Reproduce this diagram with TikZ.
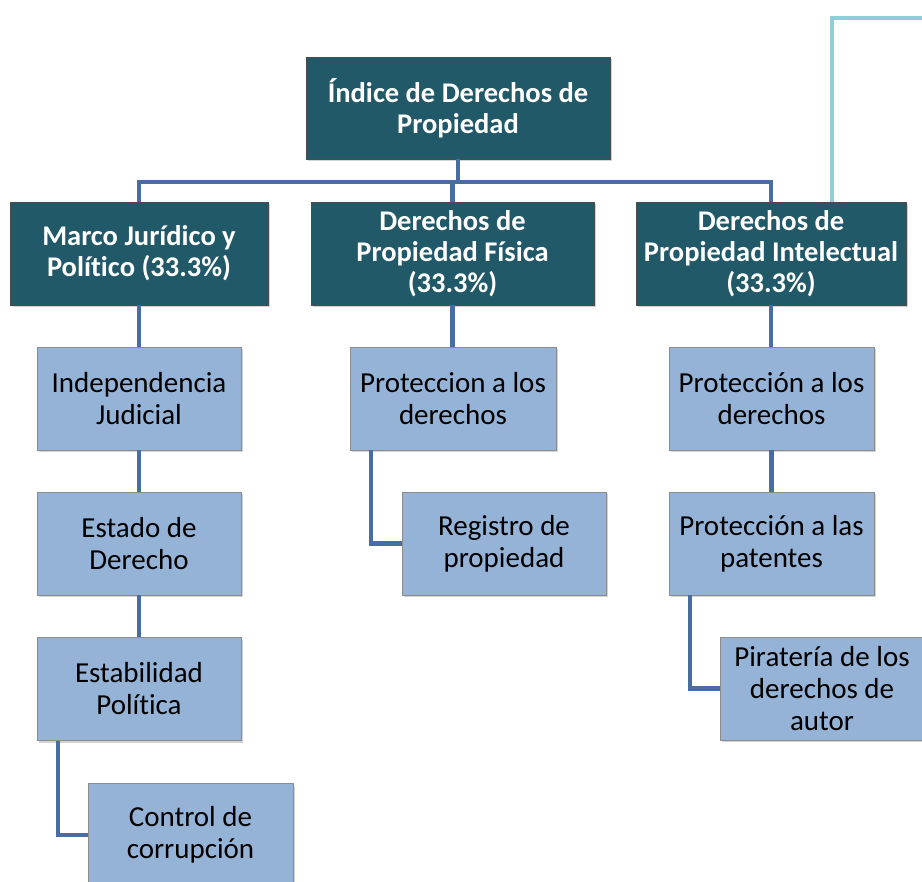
\documentclass[tikz,border=0pt]{standalone}
\usepackage{fontspec}
\setmainfont{Carlito}[RawFeature=-liga]
\usetikzlibrary{shadows}
\definecolor{tealbox}{RGB}{34,89,104}
\definecolor{lightbox}{RGB}{149,179,215}
\definecolor{linkblue}{RGB}{72,108,164}
\definecolor{feedblue}{RGB}{146,205,220}
\begin{document}
\begin{tikzpicture}[x=1pt, y=-1pt,
    head style/.style={draw=black!70, line width=0.6pt, fill=tealbox, text=white,
        font=\fontsize{28.5}{31}\selectfont\bfseries, align=center, inner sep=0pt,
        drop shadow={opacity=0.35, shadow xshift=2pt, shadow yshift=-2pt}},
    item style/.style={draw=black!45, line width=0.6pt, fill=lightbox, text=black,
        font=\fontsize{29}{32}\selectfont, align=center, inner sep=0pt,
        minimum width=204pt, minimum height=103pt,
        drop shadow={opacity=0.35, shadow xshift=2pt, shadow yshift=-2pt}},
    link style/.style={draw=linkblue, line width=4.5pt},
    feed style/.style={draw=feedblue, line width=4.5pt},]
    \clip (0,0) rectangle (922,882);
    \useasboundingbox (0,0) rectangle (922,882);

    \coordinate (bus) at (458,182);
    \coordinate (feed) at (930,18);

    \path (458,108) node[head style, minimum width=304pt, minimum height=102pt] (top) {Índice de Derechos de\\Propiedad};
    \path (139,253.5) node[head style, minimum width=258pt, minimum height=103pt] (marco) {Marco Jurídico y\\Político (33.3\%)};
    \path (452.5,253.5) node[head style, minimum width=283pt, minimum height=103pt] (fisica) {Derechos de\\Propiedad Física\\(33.3\%)};
    \path (771,253.5) node[head style, minimum width=270pt, minimum height=103pt] (intel) {Derechos de\\Propiedad Intelectual\\(33.3\%)};

    \draw[style=feed style] ([xshift=61pt]intel.north) |- (feed);
    \draw[style=link style] (top.south) -- (bus);
    \draw[style=link style] (marco.north) |- (bus) -| (intel.north);
    \draw[style=link style] (fisica.north) -- (fisica.north |- bus);

    % left column
    \draw[style=link style] (marco.south) -- ++(0,42);
    \path (139,398.5) node[item style] (indep) {Independencia\\Judicial};
    \draw[style=link style] (indep.south) -- ++(0,42);
    \path (139,543.5) node[item style] (estado) {Estado de\\Derecho};
    \draw[style=link style] (estado.south) -- ++(0,43);
    \path (139,689) node[item style] (estab) {Estabilidad\\Política};
    \draw[style=link style] ([xshift=-81pt]estab.south) |- (190,835);
    \path (190.5,835) node[item style, minimum width=205pt] (control) {Control de\\corrupción};

    % middle column
    \draw[style=link style] (fisica.south) -- ++(0,42);
    \path (453,398.5) node[item style, minimum width=206pt] (prot1) {Proteccion a los\\derechos};
    \draw[style=link style] ([xshift=-82pt]prot1.south) |- (504,543.5);
    \path (504,543.5) node[item style] (registro) {Registro de\\propiedad};

    % right column
    \draw[style=link style] (intel.south) -- ++(0,42);
    \path (771.5,398.5) node[item style, minimum width=205pt] (prot2) {Protección a los\\derechos};
    \draw[style=link style] (prot2.south) -- ++(0,42);
    \path (771.5,543.5) node[item style, minimum width=205pt] (patentes) {Protección a las\\patentes};
    \draw[style=link style] ([xshift=-81.5pt]patentes.south) |- (822,688.5);
    \path (822,688.5) node[item style] (pirateria) {Piratería de los\\derechos de\\autor};

\end{tikzpicture}
\end{document}
